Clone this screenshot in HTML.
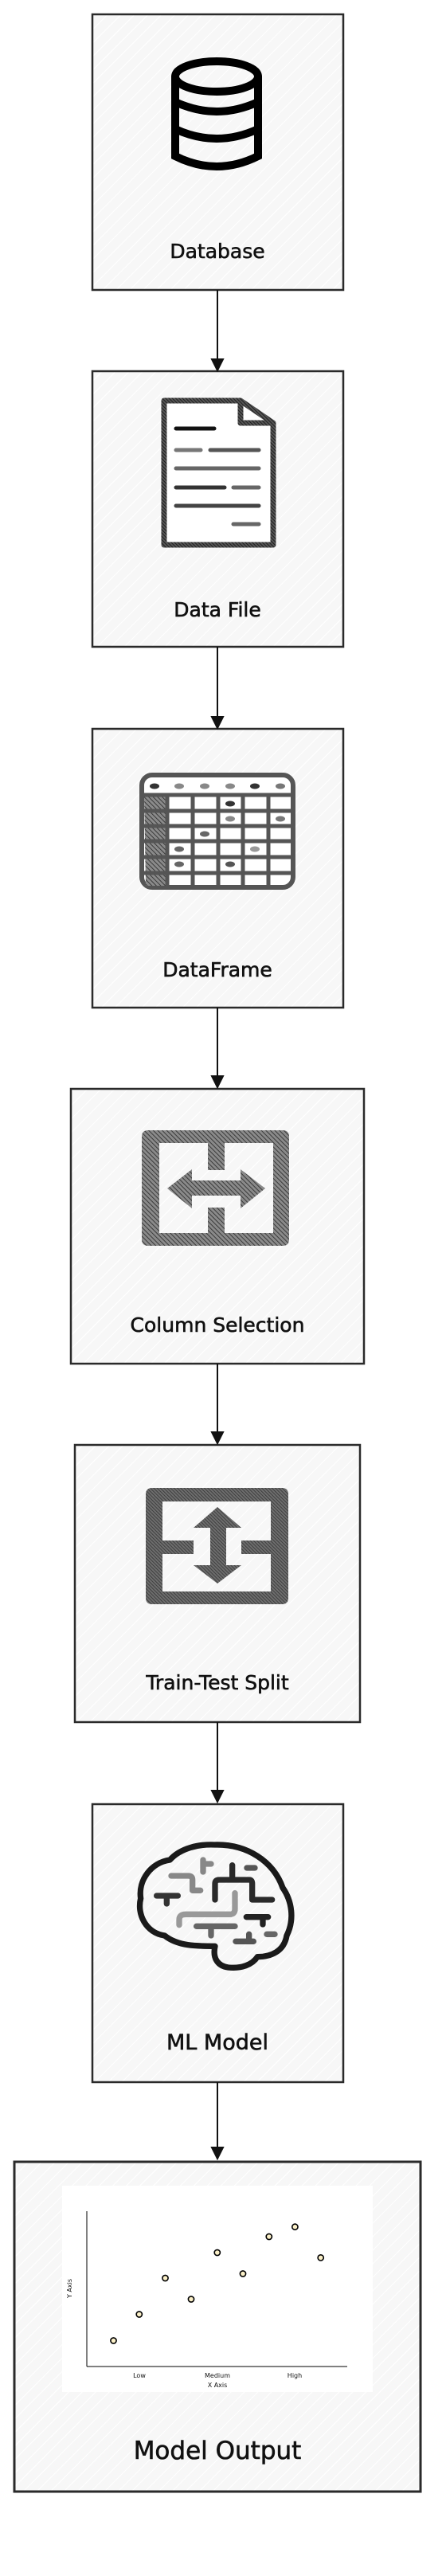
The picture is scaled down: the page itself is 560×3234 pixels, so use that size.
<!DOCTYPE html>
<html><head><meta charset="utf-8"><style>
html,body{margin:0;padding:0;background:#fff;}
svg{display:block;}
text{font-family:"DejaVu Sans","Liberation Sans",sans-serif;fill:#111;}
.lb{stroke:#111;stroke-width:0.6;}
</style></head><body>
<svg width="560" height="3234" viewBox="0 0 560 3234" xmlns="http://www.w3.org/2000/svg">
<defs>
<pattern id="bg" width="12" height="12" patternUnits="userSpaceOnUse" patternTransform="rotate(45)">
<rect width="12" height="12" fill="#f7f7f7"/><line x1="0" y1="0" x2="0" y2="12" stroke="#ffffff" stroke-width="2"/>
</pattern>
<pattern id="hd" width="4" height="4" patternUnits="userSpaceOnUse" patternTransform="rotate(-45)">
<rect width="4" height="4" fill="#8a8a8a"/><line x1="0" y1="0" x2="0" y2="4" stroke="#3a3a3a" stroke-width="2"/>
</pattern>
<pattern id="hk" width="3" height="3" patternUnits="userSpaceOnUse" patternTransform="rotate(-45)">
<rect width="3" height="3" fill="#555"/><line x1="0" y1="0" x2="0" y2="3" stroke="#111" stroke-width="1.6"/>
</pattern>
</defs>

<g stroke="#2a2a2a" stroke-width="2.5" fill="url(#bg)">
<rect x="116" y="18" width="315" height="346"/>
<rect x="116" y="466" width="315" height="346"/>
<rect x="116" y="915" width="315" height="350"/>
<rect x="89" y="1367" width="368" height="345"/>
<rect x="94" y="1814" width="358" height="348"/>
<rect x="116" y="2265" width="315" height="349"/>
<rect x="18" y="2714" width="510" height="414" stroke-width="3"/>
</g>

<g stroke="#111" stroke-width="2" fill="#111">
<line x1="273" y1="364" x2="273" y2="452"/><path d="M266,451 L280,451 L273,465 Z"/>
<line x1="273" y1="812" x2="273" y2="901"/><path d="M266,900 L280,900 L273,914 Z"/>
<line x1="273" y1="1265" x2="273" y2="1352"/><path d="M266,1351 L280,1351 L273,1365 Z"/>
<line x1="273" y1="1712" x2="273" y2="1799"/><path d="M266,1798 L280,1798 L273,1812 Z"/>
<line x1="273" y1="2162" x2="273" y2="2249"/><path d="M266,2248 L280,2248 L273,2262 Z"/>
<line x1="273" y1="2614" x2="273" y2="2697"/><path d="M266,2696 L280,2696 L273,2710 Z"/>
</g>

<g fill="none" stroke="#000" stroke-width="10" stroke-linecap="round">
<ellipse cx="272" cy="96" rx="52" ry="19"/>
<path d="M220,96 V196 Q272,222 324,196 V96"/>
<path d="M220,128 Q272,152 324,128"/>
<path d="M220,162 Q272,186 324,162"/>
</g>
<text class="lb" x="273" y="324" font-size="25" text-anchor="middle">Database</text>

<path d="M206,503 H302 L343,531 V684 H206 Z" fill="#fff" stroke="url(#hk)" stroke-width="7" stroke-linejoin="round"/>
<path d="M302,503 V531 H343" fill="none" stroke="url(#hk)" stroke-width="7" stroke-linejoin="round"/>
<g stroke-width="5" stroke-linecap="round">
<line x1="221" y1="538" x2="269" y2="538" stroke="#111"/>
<line x1="221" y1="565" x2="252" y2="565" stroke="#777"/>
<line x1="264" y1="565" x2="325" y2="565" stroke="#555"/>
<line x1="221" y1="588" x2="325" y2="588" stroke="#666"/>
<line x1="221" y1="612" x2="282" y2="612" stroke="#333"/>
<line x1="293" y1="612" x2="325" y2="612" stroke="#666"/>
<line x1="221" y1="635" x2="325" y2="635" stroke="#444"/>
<line x1="293" y1="658" x2="325" y2="658" stroke="#666"/>
</g>
<text class="lb" x="273" y="774" font-size="25" text-anchor="middle">Data File</text>

<rect x="178" y="973" width="190" height="141" rx="13" fill="#fff" stroke="#555" stroke-width="6"/>
<path d="M181,1000 L208,1000 L208,1112 L183,1112 Z" fill="url(#hd)"/>
<g stroke="#555" stroke-width="5">
<line x1="178" y1="998" x2="368" y2="998"/>
<line x1="178" y1="1018" x2="368" y2="1018"/>
<line x1="178" y1="1037" x2="368" y2="1037"/>
<line x1="178" y1="1056" x2="368" y2="1056"/>
<line x1="178" y1="1076" x2="368" y2="1076"/>
<line x1="178" y1="1096" x2="368" y2="1096"/>
<line x1="210" y1="998" x2="210" y2="1114"/>
<line x1="242" y1="998" x2="242" y2="1114"/>
<line x1="274" y1="998" x2="274" y2="1114"/>
<line x1="305" y1="998" x2="305" y2="1114"/>
<line x1="337" y1="998" x2="337" y2="1114"/>
</g>
<g fill="#666">
<ellipse cx="194" cy="987" rx="6" ry="3.5" fill="#333"/><ellipse cx="225" cy="987" rx="6" ry="3.5" fill="#888"/>
<ellipse cx="257" cy="987" rx="6" ry="3.5" fill="#888"/><ellipse cx="289" cy="987" rx="6" ry="3.5" fill="#888"/>
<ellipse cx="320" cy="987" rx="6" ry="3.5" fill="#333"/><ellipse cx="352" cy="987" rx="6" ry="3.5" fill="#777"/>
<ellipse cx="289" cy="1009" rx="6" ry="3.5" fill="#333"/><ellipse cx="289" cy="1028" rx="6" ry="3.5" fill="#888"/>
<ellipse cx="352" cy="1028" rx="6" ry="3.5" fill="#777"/><ellipse cx="257" cy="1047" rx="6" ry="3.5"/>
<ellipse cx="225" cy="1066" rx="6" ry="3.5"/><ellipse cx="320" cy="1066" rx="6" ry="3.5" fill="#999"/>
<ellipse cx="225" cy="1085" rx="6" ry="3.5"/><ellipse cx="289" cy="1085" rx="6" ry="3.5" fill="#555"/>
</g>
<text class="lb" x="273" y="1226" font-size="25" text-anchor="middle">DataFrame</text>

<path fill-rule="evenodd" fill="url(#hd)" d="M186,1419 H355 Q363,1419 363,1427 V1556 Q363,1564 355,1564 H186 Q178,1564 178,1556 V1427 Q178,1419 186,1419 Z
M200,1435 V1548 H261 V1516 H282 V1548 H343 V1435 H282 V1469 H261 V1435 Z"/>
<path fill="url(#hd)" d="M210,1492 L241,1468 L241,1482 L302,1482 L302,1468 L333,1492 L302,1517 L302,1501 L241,1501 L241,1517 Z"/>
<text class="lb" x="273" y="1672" font-size="25" text-anchor="middle">Column Selection</text>

<path fill-rule="evenodd" fill="url(#hk)" opacity="0.85" d="M191,1868 H354 Q362,1868 362,1876 V2006 Q362,2014 354,2014 H191 Q183,2014 183,2006 V1876 Q183,1868 191,1868 Z
M204,1885 V1934 H243 V1951 H204 V1998 H340 V1951 H303 V1934 H340 V1885 Z"/>
<path fill="url(#hk)" opacity="0.85" d="M273,1892 L303,1918 L284,1918 L284,1965 L303,1965 L273,1988 L243,1965 L264,1965 L264,1918 L243,1918 Z"/>
<text class="lb" x="273" y="2121" font-size="25" text-anchor="middle">Train-Test Split</text>

<g transform="translate(170,2310) scale(0.3333)" fill="none" stroke-linecap="round" stroke-linejoin="round">
<path d="M110,360 C40,350 5,280 20,220 C10,150 60,85 130,75 C170,30 240,15 300,18 C420,15 520,80 555,180 C590,230 600,300 570,360 C560,420 510,440 460,440 C440,470 400,485 350,480 C310,475 290,445 300,400 C230,400 160,400 110,360 Z" stroke="#1a1a1a" stroke-width="22"/>
<g stroke-width="22">
<path d="M135,135 H200 Q215,135 215,150 V190 H245" stroke="#888"/>
<path d="M255,75 V120 M255,90 H285" stroke="#888"/>
<path d="M80,210 H160 M118,210 V240" stroke="#333"/>
<path d="M300,225 V165 Q300,150 315,150 H430 Q440,150 440,165 V225 H515 M365,95 V150" stroke="#2a2a2a"/>
<path d="M420,105 H450" stroke="#555"/>
<path d="M165,320 V300 Q165,280 190,280 H355 Q375,280 375,260 V200" stroke="#999"/>
<path d="M230,325 H375 M285,325 V360" stroke="#666"/>
<path d="M418,290 H500 M480,290 V318" stroke="#222"/>
<path d="M378,382 H445 M428,355 V382" stroke="#555"/>
<path d="M495,355 H525" stroke="#666"/>
</g>
</g>
<text class="lb" x="273" y="2573" font-size="27" text-anchor="middle">ML Model</text>

<rect x="78" y="2744" width="390" height="259" fill="#fff"/>
<g stroke="#000" stroke-width="1">
<line x1="109" y1="2776" x2="109" y2="2971"/>
<line x1="109" y1="2971" x2="436" y2="2971"/>
</g>
<g fill="#fbf0c8" stroke="#000" stroke-width="1.6">
<circle cx="142.5" cy="2938.5" r="3.6"/><circle cx="174.8" cy="2905.5" r="3.6"/>
<circle cx="207.5" cy="2860" r="3.6"/><circle cx="240" cy="2886.5" r="3.6"/>
<circle cx="272.8" cy="2828" r="3.6"/><circle cx="305" cy="2854.5" r="3.6"/>
<circle cx="337.8" cy="2808" r="3.6"/><circle cx="370.4" cy="2795.7" r="3.6"/>
<circle cx="402.7" cy="2834.4" r="3.6"/>
</g>
<g font-size="8" text-anchor="middle">
<text x="175" y="2985" font-size="8">Low</text>
<text x="273" y="2985" font-size="8">Medium</text>
<text x="370" y="2985" font-size="8">High</text>
<text x="273" y="2997" font-size="8">X Axis</text>
<text x="0" y="0" font-size="8" transform="translate(90,2873) rotate(-90)">Y Axis</text>
</g>
<text class="lb" x="273" y="3087" font-size="31" text-anchor="middle">Model Output</text>
</svg>
</body></html>
